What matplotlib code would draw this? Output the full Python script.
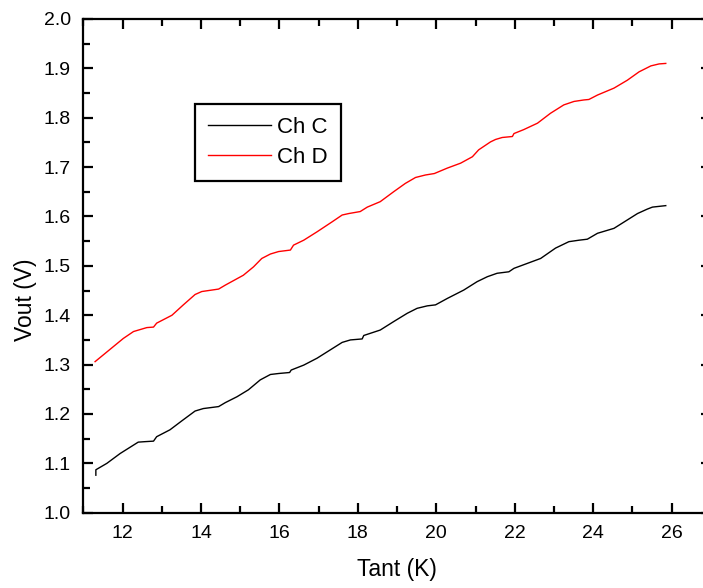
import matplotlib.pyplot as plt
from matplotlib.ticker import MultipleLocator

plt.rcParams['font.family'] = ['Liberation Sans', 'DejaVu Sans']

# Ch C (black)
tc = [11.32, 11.32, 11.60, 11.94, 12.24, 12.40, 12.58, 12.79, 12.87, 13.21,
      13.51, 13.85, 14.06, 14.45, 14.62, 14.92, 15.21, 15.51, 15.77, 15.98,
      16.26, 16.30, 16.62, 16.96, 17.30, 17.60, 17.81, 18.11, 18.15, 18.57,
      18.91, 19.26, 19.51, 19.77, 19.98, 20.28, 20.70, 21.04, 21.30, 21.55,
      21.85, 21.98, 22.32, 22.66, 23.04, 23.38, 23.64, 23.85, 24.11, 24.53,
      24.87, 25.13, 25.38, 25.51, 25.85]
vc = [1.076, 1.087, 1.100, 1.120, 1.135, 1.143, 1.144, 1.145, 1.154, 1.168,
      1.186, 1.206, 1.211, 1.215, 1.223, 1.235, 1.249, 1.269, 1.280, 1.282,
      1.284, 1.289, 1.299, 1.313, 1.330, 1.345, 1.350, 1.352, 1.359, 1.370,
      1.387, 1.404, 1.414, 1.419, 1.421, 1.434, 1.451, 1.468, 1.478, 1.485,
      1.488, 1.495, 1.505, 1.515, 1.536, 1.549, 1.552, 1.554, 1.566, 1.576,
      1.593, 1.606, 1.615, 1.619, 1.622]

# Ch D (red)
td = [11.30, 12.02, 12.28, 12.62, 12.79, 12.87, 13.26, 13.55, 13.85, 14.02,
      14.45, 14.62, 15.08, 15.34, 15.55, 15.77, 15.98, 16.28, 16.36, 16.62,
      16.96, 17.34, 17.60, 17.77, 18.06, 18.24, 18.57, 18.91, 19.21, 19.47,
      19.72, 19.95, 20.28, 20.62, 20.92, 21.08, 21.38, 21.51, 21.68, 21.94,
      21.98, 22.23, 22.58, 22.91, 23.25, 23.51, 23.76, 23.89, 24.11, 24.53,
      24.87, 25.17, 25.47, 25.68, 25.85]
vd = [1.306, 1.353, 1.367, 1.375, 1.376, 1.384, 1.400, 1.421, 1.442, 1.448,
      1.453, 1.461, 1.481, 1.498, 1.515, 1.524, 1.529, 1.532, 1.542, 1.552,
      1.569, 1.589, 1.603, 1.606, 1.610, 1.619, 1.630, 1.650, 1.667, 1.679,
      1.684, 1.687, 1.698, 1.708, 1.721, 1.735, 1.751, 1.756, 1.760, 1.762,
      1.768, 1.776, 1.789, 1.809, 1.826, 1.833, 1.836, 1.837, 1.846, 1.860,
      1.876, 1.893, 1.905, 1.909, 1.910]

fig = plt.figure(figsize=(7.03, 5.88), dpi=100)
ax = fig.add_axes([0.1185, 0.128, 0.8927, 0.8397])

ax.plot(tc, vc, color='black', lw=1.0, label='Ch C')
ax.plot(td, vd, color='red', lw=1.0, label='Ch D')

ax.set_xlim(11, 27)
ax.set_ylim(1.0, 2.0)
ax.xaxis.set_major_locator(MultipleLocator(2))
ax.xaxis.set_minor_locator(MultipleLocator(1))
ax.yaxis.set_major_locator(MultipleLocator(0.1))
ax.yaxis.set_minor_locator(MultipleLocator(0.05))
ax.tick_params(which='both', direction='in', top=True, right=True, width=1.6, labelsize=14)
ax.tick_params(which='major', length=7.5, pad=9)
ax.tick_params(which='minor', length=5)
for s in ax.spines.values():
    s.set_linewidth(1.6)

ax.set_xlabel('Tant (K)', fontsize=16.5)
ax.set_ylabel('Vout (V)', fontsize=16.5)
ax.xaxis.set_label_coords(0.5, -0.092)
ax.yaxis.set_label_coords(-0.074, 0.431)

leg = ax.legend(loc='upper left', bbox_to_anchor=(0.178, 0.828), fontsize=16,
                frameon=True, fancybox=False, framealpha=1, edgecolor='black',
                handlelength=2.8, handletextpad=0.3, borderpad=0.6,
                labelspacing=0.4, borderaxespad=0)
leg.get_frame().set_linewidth(1.6)

fig.savefig('out.png', dpi=100)
